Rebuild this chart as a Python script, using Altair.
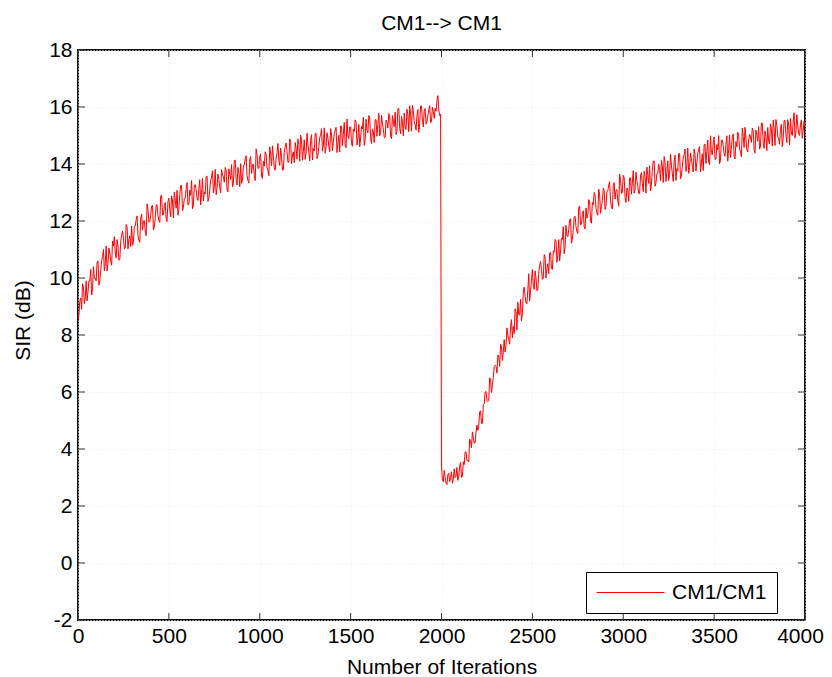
import altair as alt
import pandas as pd

# ---------------- data ----------------
# SIR sampled every 10 iterations (0, 10, ..., 4000)
iterations = list(range(0, 4001, 10))
sir_db = [
    8.5, 9.2, 8.9, 9.7, 9.3, 9.2, 9.9, 10.3, 9.6, 10.0,
    9.9, 10.6, 9.9, 10.6, 11.0, 10.5, 10.25, 11.05, 10.6, 11.3,
    11.45, 10.7, 11.1, 10.65, 11.5, 11.4, 11.05, 11.8, 11.35, 11.1,
    11.15, 11.8, 12.05, 11.5, 11.25, 12.25, 12.0, 11.65, 12.6, 11.95,
    12.2, 12.55, 11.8, 12.55, 12.2, 11.95, 12.9, 12.22, 12.65, 11.98,
    12.8, 12.15, 12.7, 13.02, 12.45, 12.2, 12.92, 13.25, 12.48, 12.8,
    13.35, 12.58, 12.9, 12.43, 13.25, 13.1, 12.72, 13.45, 12.98, 12.7,
    12.95, 13.58, 12.8, 13.43, 13.76, 13.2, 12.92, 13.65, 13.18, 13.8,
    13.55, 13.88, 13.1, 13.83, 13.46, 13.2, 14.12, 13.45, 13.88, 13.2,
    13.32, 13.95, 14.18, 13.6, 13.33, 14.26, 13.98, 13.6, 14.53, 13.85,
    14.25, 13.58, 14.1, 14.43, 13.86, 13.59, 14.32, 14.64, 13.87, 14.2,
    14.72, 13.95, 14.27, 13.8, 14.62, 14.45, 14.07, 14.8, 14.32, 14.04,
    14.56, 14.88, 14.1, 14.82, 14.44, 14.16, 15.08, 14.4, 14.82, 14.14,
    14.46, 15.08, 14.3, 14.92, 15.24, 14.66, 14.38, 15.1, 14.62, 15.24,
    14.46, 15.07, 15.29, 14.7, 14.42, 15.33, 15.05, 14.66, 15.58, 14.89,
    15.3, 14.62, 15.14, 15.46, 14.88, 14.6, 15.32, 15.64, 14.86, 15.18,
    15.7, 14.92, 15.23, 14.75, 15.56, 15.38, 14.99, 15.71, 15.22, 14.94,
    15.45, 15.77, 14.98, 15.7, 15.31, 15.03, 15.94, 15.26, 15.67, 14.99,
    15.3, 15.92, 15.13, 15.75, 16.06, 15.48, 15.19, 15.91, 15.42, 16.04,
    15.3, 15.95, 15.5, 15.9, 15.45, 16.0, 15.6, 15.85, 16.4, 15.7,
    3.4, 2.85, 3.0, 2.75, 3.15, 3.0, 2.8, 3.3, 3.05, 2.9,
    3.4, 3.0, 3.55, 3.9, 3.6, 3.55, 4.25, 4.6, 4.2, 4.6,
    4.65, 5.3, 4.9, 5.55, 6.0, 5.7, 5.7, 6.45, 6.25, 6.9,
    6.9, 7.3, 6.9, 7.6, 7.4, 7.4, 8.25, 7.85, 8.3, 7.9,
    8.05, 8.8, 9.15, 8.7, 8.5, 9.5, 9.35, 9.1, 10.15, 9.55,
    10.3, 9.6, 10.0, 9.6, 10.45, 10.3, 10.0, 10.75, 10.35, 10.15,
    10.9, 10.3, 10.9, 11.3, 10.8, 10.6, 11.4, 11.8, 11.1, 11.5,
    11.7, 12.08, 11.36, 12.14, 11.8, 11.56, 12.52, 11.9, 12.36, 11.72,
    12.1, 12.75, 12.0, 12.65, 13.0, 12.45, 12.2, 12.95, 12.5, 13.15,
    12.4, 13.03, 13.26, 12.69, 12.42, 13.35, 13.08, 12.71, 13.64, 12.97,
    13.6, 12.83, 13.16, 12.69, 13.52, 13.35, 12.98, 13.71, 13.24, 12.97,
    13.7, 13.03, 13.56, 13.89, 13.32, 13.05, 13.78, 14.11, 13.34, 13.67,
    13.8, 14.12, 13.35, 14.07, 13.7, 13.42, 14.35, 13.67, 14.1, 13.42,
    13.75, 14.37, 13.59, 14.21, 14.53, 13.95, 13.67, 14.39, 13.91, 14.53,
    13.75, 14.38, 14.61, 14.04, 13.77, 14.7, 14.43, 14.06, 14.99, 14.32,
    14.95, 14.17, 14.49, 14.01, 14.83, 14.65, 14.27, 14.99, 14.51, 14.23,
    14.95, 14.27, 14.79, 15.11, 14.53, 14.25, 14.97, 15.29, 14.51, 14.83,
    14.95, 15.26, 14.48, 15.19, 14.8, 14.52, 15.43, 14.74, 15.16, 14.47,
    14.8, 15.41, 14.63, 15.24, 15.56, 14.97, 14.69, 15.4, 14.92, 15.53,
    14.75, 15.36, 15.6, 15.0, 15.8, 15.1, 15.37, 15.0, 15.55, 15.18, 15.3,
]
# SIR at the in-between iterations (5, 15, ..., 3995)
iterations_mid = list(range(5, 4000, 10))
sir_db_mid = [
    8.7, 9.3, 9.8, 9.1, 9.9, 9.5, 9.9, 9.4, 10.4, 10.0,
    10.55, 9.75, 10.25, 10.75, 10.25, 11.12, 10.5, 10.88, 10.45, 11.12,
    10.88, 11.35, 10.62, 11.28, 11.65, 11.02, 11.88, 11.02, 11.48, 11.82,
    11.28, 11.82, 12.18, 11.32, 12.1, 11.68, 12.02, 11.48, 12.42, 11.98,
    12.52, 11.68, 12.12, 12.58, 12.02, 12.88, 12.21, 12.54, 12.06, 12.69,
    12.42, 12.88, 12.11, 12.74, 13.08, 12.41, 13.24, 12.36, 12.79, 13.12,
    12.56, 13.09, 13.42, 12.54, 13.28, 12.81, 13.14, 12.56, 13.49, 13.02,
    13.56, 12.69, 13.12, 13.54, 12.98, 13.81, 13.14, 13.46, 12.99, 13.62,
    13.36, 13.79, 13.02, 13.64, 13.98, 13.31, 14.14, 13.26, 13.69, 14.01,
    13.44, 13.96, 14.29, 13.42, 14.14, 13.67, 13.99, 13.42, 14.34, 13.85,
    14.36, 13.49, 13.92, 14.34, 13.78, 14.6, 13.93, 14.26, 13.78, 14.4,
    14.13, 14.56, 13.78, 14.41, 14.74, 14.06, 14.88, 14.01, 14.43, 14.75,
    14.17, 14.69, 15.01, 14.13, 14.85, 14.37, 14.69, 14.11, 15.03, 14.55,
    15.07, 14.19, 14.61, 15.03, 14.45, 15.27, 14.59, 14.91, 14.43, 15.05,
    14.76, 15.18, 14.4, 15.01, 15.33, 14.64, 15.46, 14.57, 14.99, 15.3,
    14.71, 15.23, 15.55, 14.67, 15.39, 14.91, 15.23, 14.65, 15.57, 15.09,
    15.61, 14.72, 15.14, 15.55, 14.97, 15.78, 15.1, 15.41, 14.93, 15.54,
    15.26, 15.67, 14.89, 15.5, 15.82, 15.13, 15.95, 15.06, 15.48, 15.79,
    15.21, 15.72, 16.04, 15.15, 15.87, 15.38, 15.7, 15.11, 16.03, 15.54,
    15.9, 15.4, 15.7, 16.05, 15.5, 15.85, 15.95, 16.2, 15.9, 15.75,
    2.9, 3.25, 2.8, 3.1, 2.85, 3.2, 2.95, 3.0, 3.35, 3.05,
    3.53, 3.03, 3.45, 3.89, 3.61, 4.35, 4.04, 4.39, 4.22, 4.84,
    4.82, 5.34, 4.9, 5.58, 6.02, 5.66, 6.5, 5.98, 6.5, 6.94,
    6.66, 7.26, 7.68, 7.1, 7.84, 7.62, 8.0, 7.68, 8.54, 8.3,
    8.92, 8.18, 8.72, 9.25, 8.75, 9.68, 9.12, 9.58, 9.2, 9.92,
    9.75, 10.25, 9.55, 10.22, 10.58, 9.95, 10.82, 10.0, 10.5, 10.88,
    10.35, 10.95, 11.35, 10.55, 11.35, 10.95, 11.35, 10.85, 11.85, 11.45,
    12.04, 11.22, 11.7, 12.17, 11.63, 12.49, 11.86, 12.23, 11.79, 12.46,
    12.22, 12.67, 11.92, 12.57, 12.92, 12.27, 13.12, 12.27, 12.72, 13.07,
    12.52, 13.05, 13.38, 12.5, 13.24, 12.77, 13.1, 12.52, 13.46, 12.99,
    13.52, 12.65, 13.08, 13.5, 12.94, 13.77, 13.1, 13.42, 12.96, 13.59,
    13.32, 13.75, 12.98, 13.6, 13.94, 13.27, 14.1, 13.22, 13.66, 13.99,
    13.41, 13.94, 14.26, 13.39, 14.11, 13.64, 13.96, 13.39, 14.31, 13.84,
    14.36, 13.48, 13.9, 14.32, 13.74, 14.56, 13.88, 14.2, 13.72, 14.34,
    14.06, 14.5, 13.72, 14.36, 14.68, 14.02, 14.84, 13.98, 14.4, 14.74,
    14.16, 14.68, 15.0, 14.12, 14.84, 14.36, 14.68, 14.1, 15.02, 14.54,
    15.06, 14.18, 14.6, 15.02, 14.44, 15.26, 14.58, 14.9, 14.42, 15.04,
    14.76, 15.17, 14.38, 15.0, 15.31, 14.62, 15.44, 14.55, 14.96, 15.28,
    14.7, 15.22, 15.54, 14.65, 15.36, 14.88, 15.2, 14.61, 15.52, 15.04,
    15.56, 14.67, 15.09, 15.5, 14.91, 15.73, 15.07, 15.38, 14.9, 15.5,
]
series_name = "CM1/CM1"
x_ticks = [0, 500, 1000, 1500, 2000, 2500, 3000, 3500, 4000]
y_ticks = [-2, 0, 2, 4, 6, 8, 10, 12, 14, 16, 18]

df = pd.concat([
    pd.DataFrame({"iter": iterations, "sir": sir_db}),
    pd.DataFrame({"iter": iterations_mid, "sir": sir_db_mid}),
]).sort_values("iter").reset_index(drop=True)
df["series"] = series_name
xt = pd.DataFrame({"iter": x_ticks})
yt = pd.DataFrame({"sir": y_ticks})

# ---------------- styling ----------------
FONT = "Liberation Sans"
FS = 21
W, H = 727, 570
TICK = 7
TICK_COLOR = "#333333"
GRID = dict(grid=True, gridColor="#ececec", gridDash=[1, 2], gridWidth=1)

xscale = alt.Scale(domain=[0, 4000], nice=False, zero=False)
yscale = alt.Scale(domain=[-2, 18], nice=False, zero=False)

x_axis = alt.Axis(
    values=x_ticks, title="Number of Iterations", tickSize=0, domain=False,
    labelExpr="'' + datum.value", labelFont=FONT, labelFontSize=FS,
    labelColor="black", labelPadding=5, labelOverlap=False, labelFlush=False,
    labelBound=False,
    labelOffset={"condition": {"test": "datum.value === 4000", "value": -5}, "value": 0},
    titleFont=FONT, titleFontSize=FS, titleFontWeight="normal",
    titleColor="black", titleY=36, titleBaseline="top", **GRID,
)
y_axis = alt.Axis(
    values=y_ticks, title="SIR (dB)", tickSize=0, domain=False,
    labelExpr="'' + datum.value", labelFont=FONT, labelFontSize=FS,
    labelColor="black", labelPadding=6, labelOverlap=False, labelFlush=False,
    titleFont=FONT, titleFontSize=FS, titleFontWeight="normal",
    titleColor="black", titleX=-55, titleY=270, titleAngle=270,
    titleAlign="center", titleBaseline="middle", **GRID,
)

line = alt.Chart(df).mark_line(strokeWidth=1, clip=True).encode(
    x=alt.X("iter:Q", scale=xscale, axis=x_axis),
    y=alt.Y("sir:Q", scale=yscale, axis=y_axis),
    color=alt.Color(
        "series:N",
        scale=alt.Scale(range=["#ff0000"]),
        legend=alt.Legend(
            title=None, orient="none", legendX=508, legendY=522,
            symbolType="stroke", symbolSize=4624, symbolStrokeWidth=1,
            labelFont=FONT, labelFontSize=FS, labelColor="black", labelOffset=7,
            padding=10, strokeColor="black", fillColor="white", clipHeight=21,
        ),
    ),
)

rule = dict(color=TICK_COLOR, strokeWidth=1)
bottom_ticks = alt.Chart(xt).mark_rule(**rule).encode(
    x=alt.X("iter:Q", scale=xscale, axis=x_axis), y=alt.value(H), y2=alt.value(H - TICK))
top_ticks = alt.Chart(xt).mark_rule(**rule).encode(
    x=alt.X("iter:Q", scale=xscale, axis=x_axis), y=alt.value(0), y2=alt.value(TICK))
left_ticks = alt.Chart(yt).mark_rule(**rule).encode(
    y=alt.Y("sir:Q", scale=yscale, axis=y_axis), x=alt.value(0), x2=alt.value(TICK))
right_ticks = alt.Chart(yt).mark_rule(**rule).encode(
    y=alt.Y("sir:Q", scale=yscale, axis=y_axis), x=alt.value(W), x2=alt.value(W - TICK))

chart = (
    alt.layer(line, bottom_ticks, top_ticks, left_ticks, right_ticks)
    .properties(
        width=W, height=H,
        title=alt.Title("CM1--> CM1", font=FONT, fontSize=FS, fontWeight="normal",
                        color="black", offset=5, frame="group"),
        autosize=alt.AutoSizeParams(type="none"),
        padding={"left": 70, "top": 42, "right": 19, "bottom": 57},
    )
    .configure_view(stroke="#111111", strokeWidth=2)
    .configure_legend(strokeWidth=1)
)

chart.save("out.html", embed_options={"renderer": "svg", "actions": False})
